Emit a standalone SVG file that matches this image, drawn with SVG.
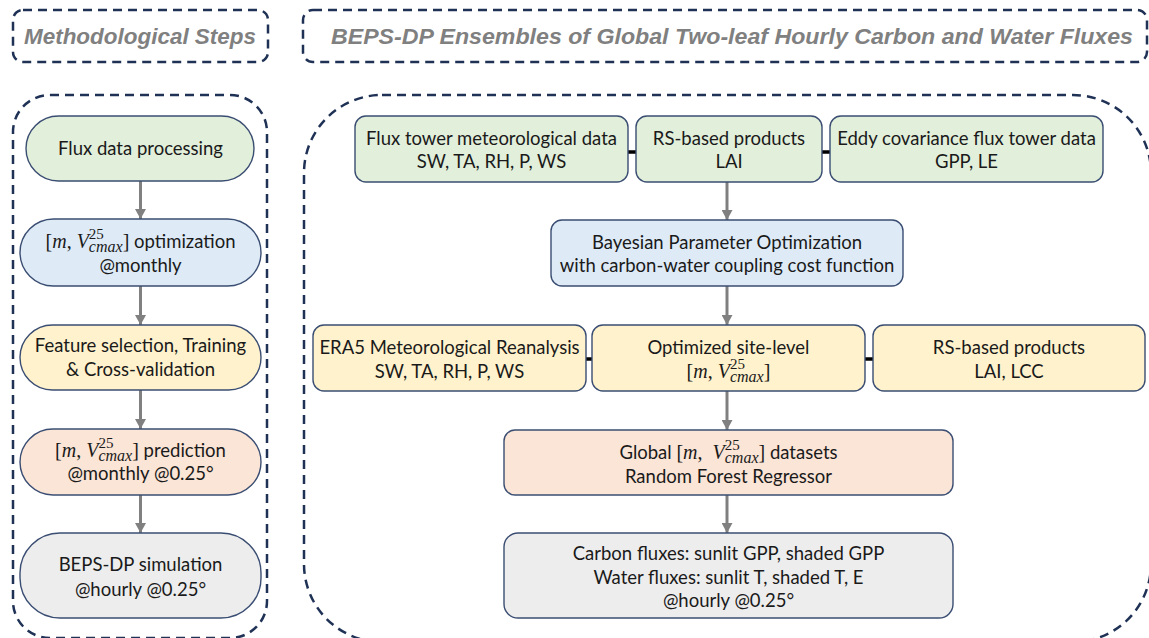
<svg xmlns="http://www.w3.org/2000/svg" width="1149" height="638" viewBox="0 0 1149 638">
<style>
.dash{fill:none;stroke:#1f3256;stroke-width:2.5;stroke-dasharray:9 6}
.title{font-family:"Liberation Sans",Arial,sans-serif;font-weight:bold;font-style:italic;font-size:22px;fill:#808080;text-anchor:middle}
.node{stroke:#3a4d72;stroke-width:1.4}
.green{fill:#e2efda}.blue{fill:#deebf7}.yellow{fill:#fff2cc}.peach{fill:#fbe5d6}.gray{fill:#ededed}
.t{font-family:Lato,"Open Sans",sans-serif;font-size:18.5px;fill:#1a1a1a;text-anchor:middle}
.m{font-family:"Liberation Serif",serif;font-size:20px}
.mi{font-family:"Liberation Serif",serif;font-size:20px;font-style:italic}
.sup{font-family:"Liberation Serif",serif;font-size:15px}
.sub{font-family:"Liberation Serif",serif;font-size:16px;font-style:italic}
.arrow{stroke:#808080;stroke-width:3;fill:none;marker-end:url(#ah)}
.link{stroke:#000;stroke-width:3.5}
</style>
<defs>
<marker id="ah" markerUnits="userSpaceOnUse" markerWidth="12" markerHeight="11" viewBox="0 0 11 12" refX="11" refY="6" orient="auto">
<path d="M0,0 L11,6 L0,12 z" fill="#808080"/>
</marker>
</defs>
<rect width="1149" height="638" fill="#ffffff"/>

<g id="title-left">
<rect class="dash" x="13" y="10" width="255" height="52" rx="10"/>
<text class="title" x="140" y="44" textLength="232" lengthAdjust="spacingAndGlyphs">Methodological Steps</text>
</g>
<g id="title-right">
<rect class="dash" x="303" y="10" width="844" height="52" rx="10"/>
<text class="title" x="732" y="44" textLength="802" lengthAdjust="spacingAndGlyphs">BEPS-DP Ensembles of Global Two-leaf Hourly Carbon and Water Fluxes</text>
</g>

<g id="container-left"><rect class="dash" x="13" y="95" width="254" height="543" rx="37"/></g>
<g id="container-right"><rect class="dash" x="304" y="95" width="847" height="547" rx="78"/></g>

<g id="connectors">
<line class="arrow" x1="140.5" y1="181" x2="140.5" y2="219"/>
<line class="arrow" x1="140.5" y1="286" x2="140.5" y2="325"/>
<line class="arrow" x1="140.5" y1="390" x2="140.5" y2="429"/>
<line class="arrow" x1="140.5" y1="495" x2="140.5" y2="533"/>
<line class="arrow" x1="727" y1="182" x2="727" y2="220"/>
<line class="arrow" x1="727" y1="286" x2="727" y2="325"/>
<line class="arrow" x1="727" y1="391" x2="727" y2="430"/>
<line class="arrow" x1="727" y1="495" x2="727" y2="533"/>
<line class="link" x1="628" y1="152" x2="636" y2="152"/>
<line class="link" x1="822" y1="152" x2="830" y2="152"/>
<line class="link" x1="586" y1="359" x2="592" y2="359"/>
<line class="link" x1="865" y1="359" x2="873" y2="359"/>
</g>

<g id="flux-data-processing">
<rect class="node green" x="26" y="116" width="228" height="65" rx="32.5"/>
<text class="t" x="140.5" y="155">Flux data processing</text>
</g>
<g id="optimization">
<rect class="node blue" x="20" y="219" width="241" height="67" rx="33.5"/>
<text class="t" x="140.5" y="248"><tspan class="m">[</tspan><tspan class="mi">m</tspan><tspan class="m">, </tspan><tspan class="mi">V</tspan><tspan class="sup" dy="-9">25</tspan><tspan class="sub" dx="-15" dy="13">cmax</tspan><tspan class="m" dy="-4">]</tspan> optimization</text>
<text class="t" x="140.5" y="272">@monthly</text>
</g>
<g id="feature-selection">
<rect class="node yellow" x="20" y="325" width="241" height="65" rx="32.5"/>
<text class="t" x="140.5" y="352">Feature selection, Training</text>
<text class="t" x="140.5" y="376">&amp; Cross-validation</text>
</g>
<g id="prediction">
<rect class="node peach" x="20" y="429" width="241" height="66" rx="33"/>
<text class="t" x="140.5" y="457"><tspan class="m">[</tspan><tspan class="mi">m</tspan><tspan class="m">, </tspan><tspan class="mi">V</tspan><tspan class="sup" dy="-9">25</tspan><tspan class="sub" dx="-15" dy="13">cmax</tspan><tspan class="m" dy="-4">]</tspan> prediction</text>
<text class="t" x="140.5" y="480">@monthly @0.25°</text>
</g>
<g id="simulation">
<rect class="node gray" x="20" y="533" width="241" height="85" rx="40"/>
<text class="t" x="140.5" y="571">BEPS-DP simulation</text>
<text class="t" x="140.5" y="596">@hourly @0.25°</text>
</g>

<g id="flux-tower-met">
<rect class="node green" x="355" y="116" width="273" height="66" rx="11"/>
<text class="t" x="491.5" y="145">Flux tower meteorological data</text>
<text class="t" x="491.5" y="168">SW, TA, RH, P, WS</text>
</g>
<g id="rs-lai">
<rect class="node green" x="636" y="116" width="186" height="66" rx="11"/>
<text class="t" x="729" y="145">RS-based products</text>
<text class="t" x="729" y="168">LAI</text>
</g>
<g id="eddy-covariance">
<rect class="node green" x="830" y="116" width="273" height="66" rx="11"/>
<text class="t" x="966.5" y="145">Eddy covariance flux tower data</text>
<text class="t" x="966.5" y="168">GPP, LE</text>
</g>
<g id="bayesian">
<rect class="node blue" x="551" y="220" width="352" height="66" rx="11"/>
<text class="t" x="727" y="249">Bayesian Parameter Optimization</text>
<text class="t" x="727" y="272">with carbon-water coupling cost function</text>
</g>
<g id="era5">
<rect class="node yellow" x="313" y="325" width="273" height="66" rx="11"/>
<text class="t" x="449.5" y="354">ERA5 Meteorological Reanalysis</text>
<text class="t" x="449.5" y="378">SW, TA, RH, P, WS</text>
</g>
<g id="optimized-site">
<rect class="node yellow" x="592" y="325" width="273" height="66" rx="11"/>
<text class="t" x="728.5" y="354">Optimized site-level</text>
<text class="t" x="728.5" y="378"><tspan class="m">[</tspan><tspan class="mi">m</tspan><tspan class="m">, </tspan><tspan class="mi">V</tspan><tspan class="sup" dy="-9">25</tspan><tspan class="sub" dx="-15" dy="13">cmax</tspan><tspan class="m" dy="-4">]</tspan></text>
</g>
<g id="rs-lai-lcc">
<rect class="node yellow" x="873" y="325" width="272" height="66" rx="11"/>
<text class="t" x="1009" y="354">RS-based products</text>
<text class="t" x="1009" y="378">LAI, LCC</text>
</g>
<g id="global-datasets">
<rect class="node peach" x="504" y="430" width="449" height="65" rx="11"/>
<text class="t" x="728.5" y="459">Global <tspan class="m">[</tspan><tspan class="mi">m</tspan><tspan class="m">,</tspan><tspan class="mi" dx="10">V</tspan><tspan class="sup" dy="-9">25</tspan><tspan class="sub" dx="-15" dy="13">cmax</tspan><tspan class="m" dy="-4">]</tspan> datasets</text>
<text class="t" x="728.5" y="483">Random Forest Regressor</text>
</g>
<g id="fluxes-output">
<rect class="node gray" x="504" y="533" width="449" height="85" rx="14"/>
<text class="t" x="728.5" y="560">Carbon fluxes: sunlit GPP, shaded GPP</text>
<text class="t" x="728.5" y="584">Water fluxes: sunlit T, shaded T, E</text>
<text class="t" x="728.5" y="607">@hourly @0.25°</text>
</g>
</svg>
